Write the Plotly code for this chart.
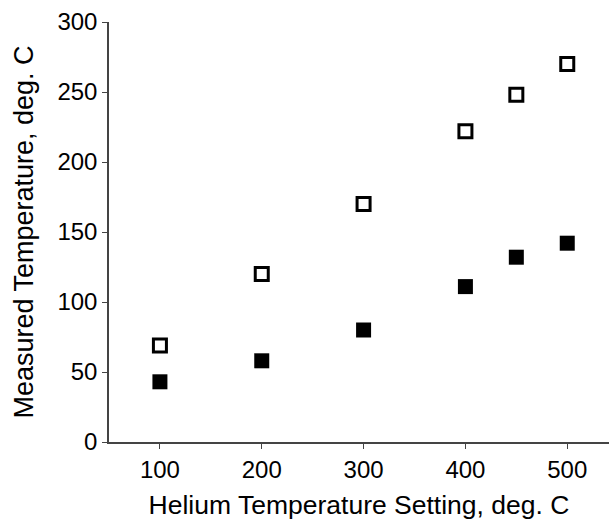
import plotly.graph_objects as go

settings = [100, 200, 300, 400, 450, 500]
open_series = [69, 120, 170, 222, 248, 270]
filled_series = [43, 58, 80, 111, 132, 142]
x_ticks = [100, 200, 300, 400, 500]
y_ticks = [0, 50, 100, 150, 200, 250, 300]

fig = go.Figure()
fig.add_trace(go.Scatter(
    x=settings, y=open_series, mode="markers",
    marker=dict(symbol="square-open", size=13, color="black", line=dict(width=3, color="black")),
    showlegend=False))
fig.add_trace(go.Scatter(
    x=settings, y=filled_series, mode="markers",
    marker=dict(symbol="square", size=15, color="black", line=dict(width=0)),
    showlegend=False))

font = "Liberation Sans, Arial, sans-serif"
fig.update_layout(
    width=609, height=520,
    margin=dict(l=109, r=0, t=22, b=78),
    paper_bgcolor="white", plot_bgcolor="white",
    font=dict(family=font, color="black", size=24),
    xaxis=dict(
        range=[50, 541], tickvals=x_ticks, ticks="outside", ticklen=5,
        tickcolor="#444", showline=True, linecolor="#444", linewidth=1.5,
        showgrid=False, zeroline=False,
        tickfont=dict(size=24),
        title=dict(text="Helium Temperature Setting, deg. C", font=dict(size=26.5), standoff=15),
    ),
    yaxis=dict(
        range=[0, 300], tickvals=y_ticks, ticks="outside", ticklen=5,
        tickcolor="#444", showline=True, linecolor="#444", linewidth=1.5,
        showgrid=False, zeroline=False,
        tickfont=dict(size=24),
        title=dict(text="Measured Temperature, deg. C", font=dict(size=27), standoff=16),
    ),
)
fig.write_html("out.html")
